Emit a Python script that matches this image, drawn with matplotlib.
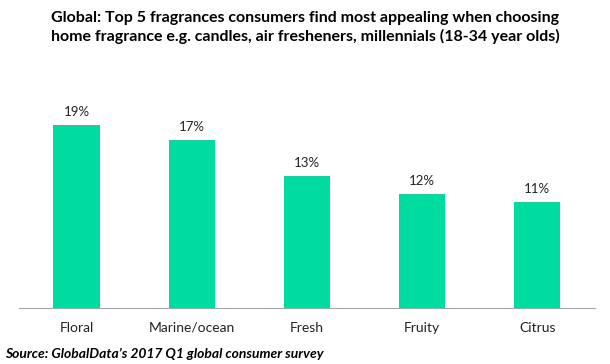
import matplotlib
matplotlib.use('Agg')
import matplotlib.pyplot as plt

categories = ["Floral", "Marine/ocean", "Fresh", "Fruity", "Citrus"]
values = [18.6, 17.1, 13.4, 11.6, 10.8]
labels = ["19%", "17%", "13%", "12%", "11%"]

plt.rcParams['font.family'] = ['Lato', 'DejaVu Sans']

fig = plt.figure(figsize=(6.1, 3.64), dpi=100)
ax = fig.add_axes([0.031, 0.1538, 0.944, 0.530])

x = range(len(categories))
bars = ax.bar(x, values, width=0.40, color="#00DBA0")
for b, lab in zip(bars, labels):
    ax.annotate(lab, (b.get_x() + b.get_width() / 2, b.get_height()),
                xytext=(0, 5), textcoords="offset points",
                ha="center", va="bottom", fontsize=9.5, color="#222222")

ax.set_xlim(-0.5, len(categories) - 0.5)
ax.set_ylim(0, 19.6)
ax.set_xticks(list(x))
ax.set_xticklabels(categories, fontsize=10, color="#222222")
ax.tick_params(axis="x", length=0, pad=10)
ax.set_yticks([])
for s in ["top", "right", "left"]:
    ax.spines[s].set_visible(False)
ax.spines["bottom"].set_color("#A6A6A6")

fig.text(0.5, 0.97, "Global: Top 5 fragrances consumers find most appealing when choosing\n"
         "home fragrance e.g. candles, air fresheners, millennials (18-34 year olds)",
         ha="center", va="top", fontsize=11.5, fontweight="bold", linespacing=1.3)
fig.text(0.008, 0.012, "Source: GlobalData\u2019s 2017 Q1 global consumer survey",
         ha="left", va="bottom", fontsize=10, fontweight="bold", fontstyle="italic")

fig.savefig("out.png", dpi=100)
